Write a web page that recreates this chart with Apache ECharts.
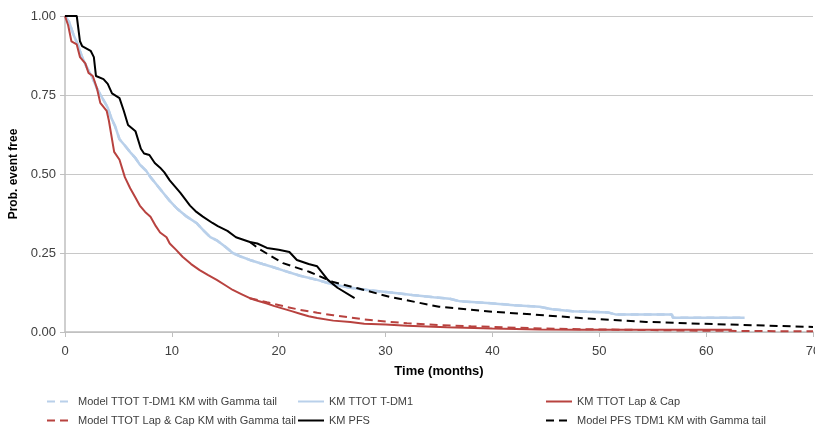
<!DOCTYPE html>
<html>
<head>
<meta charset="utf-8">
<script src="https://cdn.jsdelivr.net/npm/echarts@6/dist/echarts.min.js"></script>
<style>
  html, body { margin: 0; padding: 0; background: #fff; }
  #chart { width: 815px; height: 430px; }
</style>
</head>
<body>
<div id="chart"></div>
<script>
// Time to event (months) vs. probability event free
const xTicks = [0, 10, 20, 30, 40, 50, 60, 70];
const yTicks = [0, 0.25, 0.5, 0.75, 1];

// KM TTOT T-DM1: [months, probability]
const kmTtotTdm1 = [
  [0,1.0],[0.4,0.98],[0.8,0.94],[1.2,0.91],[1.6,0.87],[2.0,0.84],[2.5,0.81],[3.0,0.77],
  [3.5,0.74],[4.0,0.71],[4.3,0.68],[4.7,0.65],[5.1,0.61],[5.6,0.59],[6.2,0.565],[6.6,0.55],
  [7.0,0.53],[7.6,0.51],[8.0,0.49],[8.6,0.465],[9.2,0.44],[9.8,0.415],[10.5,0.39],[11.4,0.365],
  [12.3,0.345],[13.0,0.32],[13.6,0.30],[14.2,0.29],[15.0,0.27],[15.7,0.25],[16.5,0.238],
  [17.3,0.228],[18.5,0.215],[19.5,0.205],[20.4,0.195],[22,0.178],[23.6,0.165],[25.1,0.15],
  [26.7,0.14],[28.5,0.132],[30.5,0.125],[32.5,0.117],[34.5,0.11],[36,0.105],[37,0.097],
  [39.5,0.092],[42,0.085],[44.4,0.08],[45.6,0.072],[47.5,0.066],[50.8,0.062],[51.6,0.055],
  [56.8,0.055],[56.9,0.045],[63.6,0.045]
];

// Model TTOT T-DM1 (KM with Gamma tail) follows the KM estimate over the observed range
const modelTtotTdm1 = kmTtotTdm1;

// KM TTOT Lap & Cap
const kmTtotLapCap = [
  [0,1.0],[0.3,0.97],[0.6,0.92],[1.1,0.91],[1.4,0.87],[1.9,0.85],[2.2,0.82],[2.6,0.81],
  [3.0,0.77],[3.3,0.725],[3.9,0.70],[4.1,0.67],[4.3,0.63],[4.6,0.57],[5.1,0.545],[5.6,0.49],
  [6.1,0.455],[6.6,0.425],[7.0,0.40],[7.5,0.38],[8.0,0.365],[8.5,0.335],[8.9,0.315],[9.5,0.30],
  [9.8,0.28],[10.4,0.26],[11.0,0.238],[11.8,0.215],[12.6,0.196],[13.4,0.18],[14.2,0.165],
  [15.0,0.148],[15.7,0.133],[16.5,0.12],[17.3,0.107],[18.1,0.098],[18.9,0.09],[19.6,0.082],
  [20.4,0.074],[21.2,0.066],[22,0.058],[22.8,0.05],[23.6,0.044],[25.1,0.036],[26.7,0.032],
  [28.0,0.026],[30,0.024],[32,0.02],[35.7,0.015],[40,0.011],[44.4,0.008],[48.2,0.007],
  [55,0.007],[62.4,0.007]
];

// Model TTOT Lap & Cap (KM with Gamma tail)
const modelTtotLapCap = [
  [17.3,0.107],[18.9,0.094],[20.4,0.082],[22,0.07],[23.6,0.061],[25.1,0.053],[26.7,0.046],
  [28,0.04],[30,0.033],[32,0.028],[35,0.022],[38,0.018],[41,0.015],[45,0.011],[50,0.008],
  [55,0.006],[60,0.004],[65,0.003],[70,0.002]
];

// KM PFS
const kmPfs = [
  [0,1.0],[1.1,1.0],[1.4,0.92],[1.6,0.905],[2.4,0.89],[2.7,0.87],[2.9,0.81],[3.6,0.80],
  [4.0,0.785],[4.4,0.755],[5.1,0.74],[5.5,0.70],[5.9,0.655],[6.6,0.635],[7.1,0.58],[7.4,0.565],
  [7.9,0.56],[8.4,0.535],[8.9,0.52],[9.3,0.505],[9.8,0.48],[10.3,0.46],[10.8,0.44],[11.7,0.40],
  [12.3,0.38],[12.9,0.365],[13.8,0.345],[14.3,0.335],[15.2,0.32],[16.0,0.30],[17.3,0.285],
  [18.0,0.28],[18.9,0.266],[20.0,0.26],[21.0,0.253],[21.7,0.228],[22.8,0.215],[23.6,0.208],
  [24.6,0.165],[25.5,0.14],[27.1,0.107]
];

// Model PFS TDM1 (KM with Gamma tail)
const modelPfs = [
  [17.3,0.285],[18.2,0.262],[20.4,0.218],[22.9,0.19],[25.1,0.158],[27.3,0.139],[30.4,0.111],
  [35,0.08],[40,0.064],[44.4,0.054],[48.8,0.043],[54.4,0.032],[60.6,0.025],[70,0.016]
];

const names = {
  mT: 'Model TTOT T-DM1 KM with Gamma tail',
  kT: 'KM TTOT T-DM1',
  kL: 'KM TTOT Lap & Cap',
  mL: 'Model TTOT Lap & Cap KM with Gamma tail',
  kP: 'KM PFS',
  mP: 'Model PFS TDM1 KM with Gamma tail'
};

const BLUE = '#b9d0ea', RED = '#b8423f', BLACK = '#000000';
const FONT = 'Liberation Sans';

function line(name, data, color, dashed, width) {
  return {
    name, type: 'line', data, showSymbol: false, symbol: 'none', smooth: false,
    lineStyle: { color, width, type: dashed ? [8, 5] : 'solid' },
    itemStyle: { color },
    emphasis: { disabled: true }, animation: false
  };
}

// Three legend columns, two entries each
function legendColumn(left, data) {
  return {
    orient: 'vertical', left, top: 396, height: 80, padding: 0,
    itemWidth: 26, itemHeight: 10, itemGap: 8,
    itemStyle: { opacity: 0 },
    textStyle: { fontFamily: FONT, fontSize: 11, color: '#404040' },
    selectedMode: false, data
  };
}

const chart = echarts.init(document.getElementById('chart'), null, { renderer: 'canvas' });
chart.setOption({
  backgroundColor: '#ffffff',
  textStyle: { fontFamily: FONT },
  grid: { left: 65, right: 2, top: 16, bottom: 98, containLabel: false, outerBoundsMode: 'none' },
  legend: [
    legendColumn(46, [names.mT, names.mL]),
    legendColumn(297, [names.kT, names.kP]),
    legendColumn(545, [names.kL, names.mP])
  ],
  xAxis: {
    type: 'value', min: xTicks[0], max: xTicks[xTicks.length - 1], interval: 10,
    name: 'Time (months)', nameLocation: 'middle', nameGap: 33,
    nameTextStyle: { fontFamily: FONT, fontSize: 13, fontWeight: 'bold', color: '#000' },
    axisLine: { show: true, lineStyle: { color: '#bfbfbf', width: 1.5 } },
    axisTick: { show: true, length: 5, lineStyle: { color: '#bfbfbf' } },
    axisLabel: { fontFamily: FONT, fontSize: 13, color: '#404040', margin: 13 },
    splitLine: { show: false }
  },
  yAxis: {
    type: 'value', min: yTicks[0], max: yTicks[yTicks.length - 1], interval: 0.25,
    name: 'Prob. event free', nameLocation: 'middle', nameGap: 45,
    nameTextStyle: { fontFamily: FONT, fontSize: 12, fontWeight: 'bold', color: '#000' },
    axisLine: { show: true, lineStyle: { color: '#bfbfbf', width: 1.5 } },
    axisTick: { show: true, length: 5, lineStyle: { color: '#bfbfbf' } },
    axisLabel: { fontFamily: FONT, fontSize: 13, color: '#404040', margin: 9,
      formatter: v => v.toFixed(2) },
    splitLine: { show: true, lineStyle: { color: '#c8c8c8', width: 1 } }
  },
  series: [
    line(names.mT, modelTtotTdm1, BLUE, true, 2.5),
    line(names.kT, kmTtotTdm1, BLUE, false, 2.5),
    line(names.kL, kmTtotLapCap, RED, false, 2),
    line(names.mL, modelTtotLapCap, RED, true, 2),
    line(names.kP, kmPfs, BLACK, false, 2),
    line(names.mP, modelPfs, BLACK, true, 2)
  ]
});
</script>
</body>
</html>
